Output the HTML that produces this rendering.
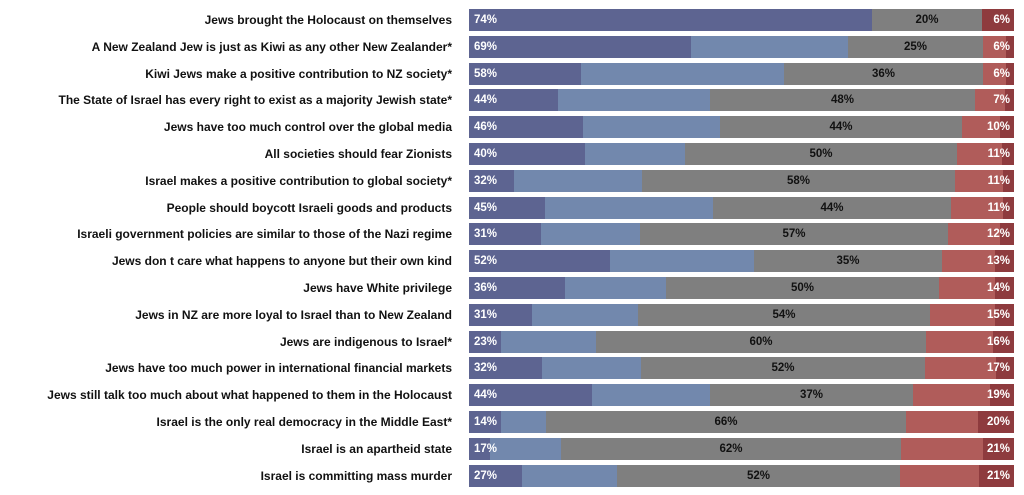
<!DOCTYPE html>
<html><head><meta charset="utf-8"><style>
body{margin:0;width:1024px;height:495px;background:#fff;position:relative;overflow:hidden;font-family:"Liberation Sans",sans-serif;font-weight:bold}
.l{position:absolute;right:572px;font-size:12px;color:#111;white-space:nowrap;line-height:22px}
.s{position:absolute;height:22px}
.t{position:absolute;font-size:11.5px;line-height:22px}
</style></head><body>
<script>
const rows=[
["Jews brought the Holocaust on themselves",[872,872,982,982],74,20,6],
["A New Zealand Jew is just as Kiwi as any other New Zealander*",[691,848,983,1006],69,25,6],
["Kiwi Jews make a positive contribution to NZ society*",[581,784,983,1006],58,36,6],
["The State of Israel has every right to exist as a majority Jewish state*",[558,710,975,1005],44,48,7],
["Jews have too much control over the global media",[583,720,962,1000],46,44,10],
["All societies should fear Zionists",[585,685,957,1002],40,50,11],
["Israel makes a positive contribution to global society*",[514,642,955,1003],32,58,11],
["People should boycott Israeli goods and products",[545,713,951,1003],45,44,11],
["Israeli government policies are similar to those of the Nazi regime",[541,640,948,1000],31,57,12],
["Jews don t care what happens to anyone but their own kind",[610,754,942,995],52,35,13],
["Jews have White privilege",[565,666,939,995],36,50,14],
["Jews in NZ are more loyal to Israel than to New Zealand",[532,638,930,995],31,54,15],
["Jews are indigenous to Israel*",[501,596,926,993],23,60,16],
["Jews have too much power in international financial markets",[542,641,925,996],32,52,17],
["Jews still talk too much about what happened to them in the Holocaust",[592,710,913,990],44,37,19],
["Israel is the only real democracy in the Middle East*",[501,546,906,978],14,66,20],
["Israel is an apartheid state",[490,561,901,983],17,62,21],
["Israel is committing mass murder",[522,617,900,979],27,52,21]];
const C=["#5d6491","#7288ad","#7f7f7f","#b05c5a","#8e3b3e"];
let h="";
rows.forEach((r,i)=>{const y=(9+i*26.8).toFixed(1);const b=[469,...r[1],1014];
h+=`<div class="l" style="top:${y}px">${r[0]}</div>`;
for(let k=0;k<5;k++){if(b[k+1]>b[k])h+=`<div class="s" style="top:${y}px;left:${b[k]}px;width:${b[k+1]-b[k]}px;background:${C[k]}"></div>`;}
h+=`<div class="t" style="top:${y}px;left:474px;color:#fff">${r[2]}%</div>`;
h+=`<div class="t" style="top:${y}px;left:${b[2]}px;width:${b[3]-b[2]}px;text-align:center;color:#111">${r[3]}%</div>`;
h+=`<div class="t" style="top:${y}px;right:${1024-1010}px;color:#fff">${r[4]}%</div>`;});
document.write(h);
</script>
</body></html>
